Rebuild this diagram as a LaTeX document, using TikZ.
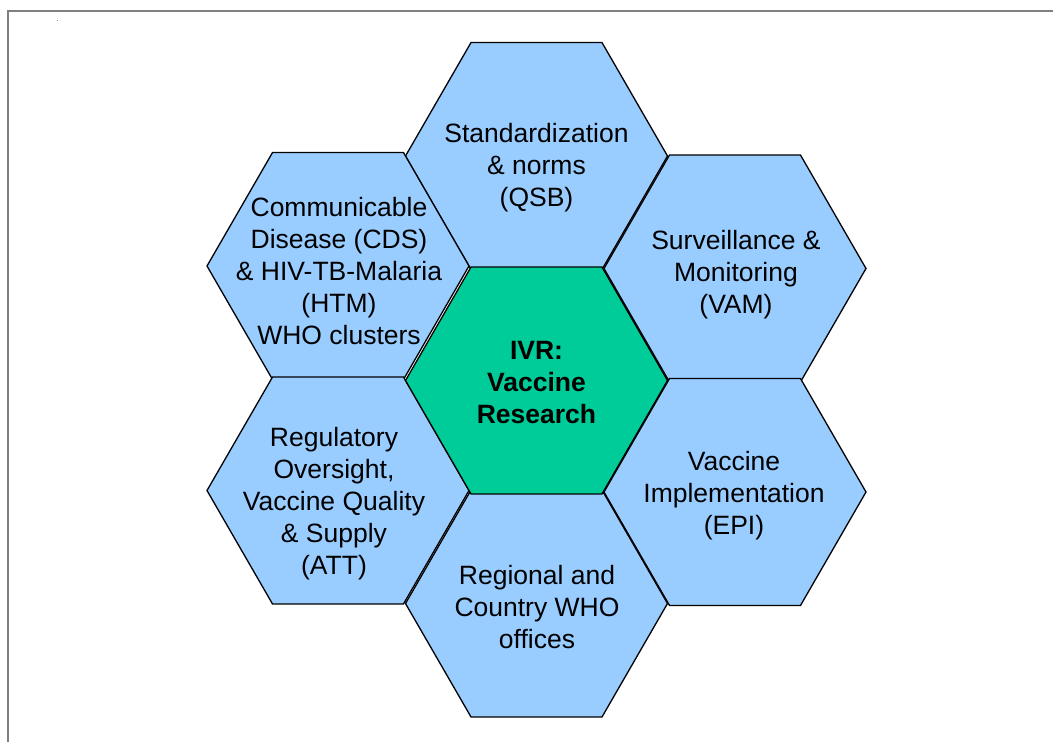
\documentclass[tikz,border=0pt]{standalone}
\usepackage{fontspec}
\setmainfont{Liberation Sans}
\usetikzlibrary{shapes.geometric}
\definecolor{cellblue}{HTML}{99CCFF}
\definecolor{coregreen}{HTML}{00CC99}
\definecolor{framegray}{HTML}{808080}
\begin{document}
\begin{tikzpicture}[x=1pt,y=-1pt,
  hexcell/.style={regular polygon, regular polygon sides=6, minimum size=262pt,
    inner sep=0pt, outer sep=0pt, draw=black, line width=1.3pt, fill=cellblue},
  corecell/.style={hexcell, fill=coregreen},
  celltext/.style={align=center, inner sep=0pt,
    font=\fontsize{26.5}{32}\selectfont},
  coretext/.style={celltext, font=\fontsize{26.5}{32}\selectfont\bfseries}]
\useasboundingbox (0,0) rectangle (1053,742);
\fill[white] (0,0) rectangle (1053,742);
% page frame
\draw[framegray, line width=2pt] (8,742) -- (8,11) -- (1053,11);
\fill[framegray] (56.5,19.5) rectangle (58,21);
% honeycomb of groups
\node[hexcell] (qsb) at (536.5,156) {};
\node[hexcell] (cds) at (338,266) {};
\node[hexcell] (vam) at (735,268.5) {};
\node[hexcell] (att) at (338,490.5) {};
\node[hexcell] (epi) at (735,492) {};
\node[hexcell] (rco) at (536.5,603.5) {};
\node[corecell] (ivr) at (536.5,380.5) {};
% cell labels
\node[celltext] (qsb-t) at (536.5,168) {Standardization\\ \& norms\\ (QSB)};
\node[celltext] (cds-t) at (339,271) {Communicable\\ Disease (CDS)\\ \& HIV-TB-Malaria\\ (HTM)\\ WHO clusters};
\node[celltext] (vam-t) at (736,275) {Surveillance \&\\ Monitoring\\ (VAM)};
\node[celltext] (att-t) at (334,504) {Regulatory\\ Oversight,\\ Vaccine Quality\\ \& Supply\\ (ATT)};
\node[celltext] (epi-t) at (734,496) {Vaccine\\ Implementation\\ (EPI)};
\node[celltext] (rco-t) at (537,607) {Regional and\\ Country WHO\\ offices};
\node[coretext] (ivr-t) at (536.5,383) {IVR:\\ Vaccine\\ Research};
\end{tikzpicture}
\end{document}
